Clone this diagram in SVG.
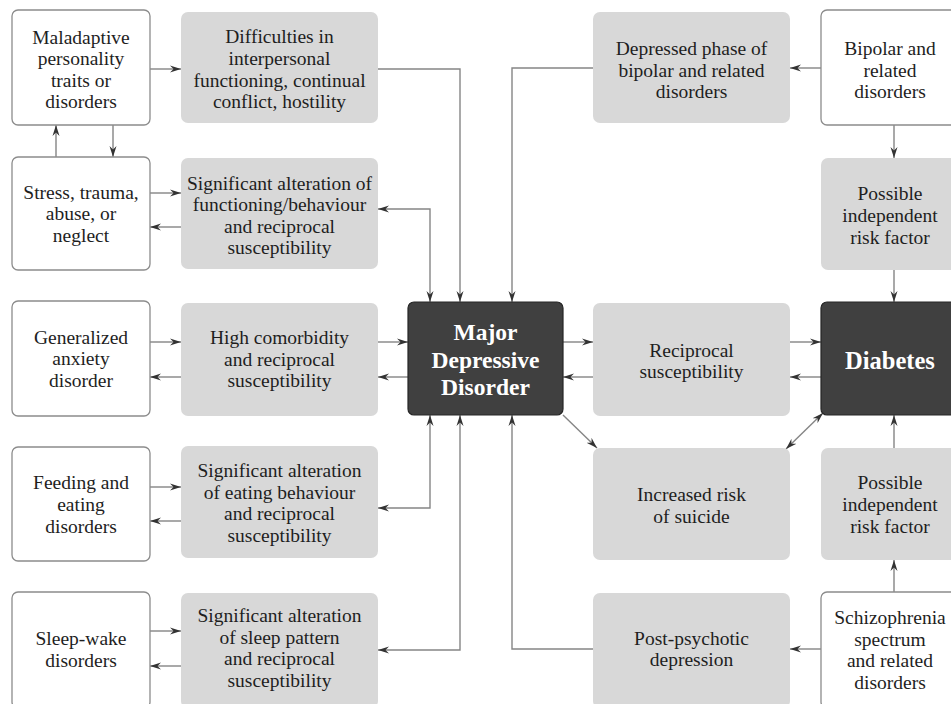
<svg xmlns="http://www.w3.org/2000/svg" width="951" height="704" viewBox="0 0 951 704">
<style>
.w{fill:#fff;stroke:#8c8c8c;stroke-width:1.3}
.g{fill:#d8d8d8;stroke:none}
.d{fill:#404040;stroke:#262626;stroke-width:1.2}
text{font-family:"Liberation Serif",serif;font-size:19.5px;fill:#1e1e1e;text-anchor:middle;dominant-baseline:central}
text.b{font-weight:bold;fill:#fff;font-size:23.5px}
.c path{fill:none;stroke:#858585;stroke-width:1.4}
</style>
<defs>
<marker id="a" viewBox="0 0 11 8" refX="11" refY="4" markerWidth="11" markerHeight="8" markerUnits="userSpaceOnUse" orient="auto-start-reverse">
<path d="M0,0.5 L11,4 L0,7.5 L3.5,4 z" fill="#333"/>
</marker>
</defs>
<rect width="951" height="704" fill="#fff"/>
<g class="c" id="connectors">
<path d="M150,69 H181" marker-end="url(#a)"/>
<path d="M378,69 H460 V302" marker-end="url(#a)"/>
<path d="M113,125 V157" marker-end="url(#a)"/>
<path d="M56,157 V125" marker-end="url(#a)"/>
<path d="M150,193 H181" marker-end="url(#a)"/>
<path d="M181,227 H150" marker-end="url(#a)"/>
<path d="M378,209 H430 V302" marker-start="url(#a)" marker-end="url(#a)"/>
<path d="M150,342 H181" marker-end="url(#a)"/>
<path d="M181,377 H150" marker-end="url(#a)"/>
<path d="M378,342 H408" marker-end="url(#a)"/>
<path d="M408,377 H378" marker-end="url(#a)"/>
<path d="M378,508 H430 V415" marker-start="url(#a)" marker-end="url(#a)"/>
<path d="M150,487 H181" marker-end="url(#a)"/>
<path d="M181,521 H150" marker-end="url(#a)"/>
<path d="M378,650 H460 V415" marker-start="url(#a)" marker-end="url(#a)"/>
<path d="M150,631 H181" marker-end="url(#a)"/>
<path d="M181,666 H150" marker-end="url(#a)"/>
<path d="M593,68 H512 V302" marker-end="url(#a)"/>
<path d="M821,68 H790" marker-end="url(#a)"/>
<path d="M894,125 V158" marker-end="url(#a)"/>
<path d="M894,270 V302" marker-end="url(#a)"/>
<path d="M563,342 H593" marker-end="url(#a)"/>
<path d="M593,377 H563" marker-end="url(#a)"/>
<path d="M790,342 H821" marker-end="url(#a)"/>
<path d="M821,377 H790" marker-end="url(#a)"/>
<path d="M563,415 L597,448" marker-end="url(#a)"/>
<path d="M823,413 L786,449" marker-start="url(#a)" marker-end="url(#a)"/>
<path d="M894,448 V415" marker-end="url(#a)"/>
<path d="M894,592 V560" marker-end="url(#a)"/>
<path d="M821,649 H790" marker-end="url(#a)"/>
<path d="M593,649 H512 V415" marker-end="url(#a)"/>
</g>
<g id="maladaptive"><rect class="w" x="12" y="10" width="138" height="115" rx="6"/>
<text><tspan x="81" y="37">Maladaptive</tspan><tspan x="81" y="58">personality</tspan><tspan x="81" y="80">traits or</tspan><tspan x="81" y="101">disorders</tspan></text></g>
<g id="stress"><rect class="w" x="12" y="157" width="138" height="113" rx="6"/>
<text><tspan x="81" y="192">Stress, trauma,</tspan><tspan x="81" y="213">abuse, or</tspan><tspan x="81" y="235">neglect</tspan></text></g>
<g id="gad"><rect class="w" x="12" y="301" width="138" height="115" rx="6"/>
<text><tspan x="81" y="337">Generalized</tspan><tspan x="81" y="358">anxiety</tspan><tspan x="81" y="380">disorder</tspan></text></g>
<g id="feeding"><rect class="w" x="12" y="447" width="138" height="114" rx="6"/>
<text><tspan x="81" y="482">Feeding and</tspan><tspan x="81" y="504">eating</tspan><tspan x="81" y="526">disorders</tspan></text></g>
<g id="sleep"><rect class="w" x="12" y="592" width="138" height="116" rx="6"/>
<text><tspan x="81" y="638">Sleep-wake</tspan><tspan x="81" y="660">disorders</tspan></text></g>
<g id="difficulties"><rect class="g" x="181" y="12" width="197" height="111" rx="7"/>
<text><tspan x="279.5" y="36">Difficulties in</tspan><tspan x="279.5" y="58">interpersonal</tspan><tspan x="279.5" y="80">functioning, continual</tspan><tspan x="279.5" y="101">conflict, hostility</tspan></text></g>
<g id="alteration-functioning"><rect class="g" x="181" y="158" width="197" height="111" rx="7"/>
<text><tspan x="279.5" y="183">Significant alteration of</tspan><tspan x="279.5" y="204">functioning/behaviour</tspan><tspan x="279.5" y="226">and reciprocal</tspan><tspan x="279.5" y="247">susceptibility</tspan></text></g>
<g id="high-comorbidity"><rect class="g" x="181" y="303" width="197" height="113" rx="7"/>
<text><tspan x="279.5" y="337">High comorbidity</tspan><tspan x="279.5" y="359">and reciprocal</tspan><tspan x="279.5" y="380">susceptibility</tspan></text></g>
<g id="alteration-eating"><rect class="g" x="181" y="446" width="197" height="112" rx="7"/>
<text><tspan x="279.5" y="470">Significant alteration</tspan><tspan x="279.5" y="492">of eating behaviour</tspan><tspan x="279.5" y="513">and reciprocal</tspan><tspan x="279.5" y="535">susceptibility</tspan></text></g>
<g id="alteration-sleep"><rect class="g" x="181" y="593" width="197" height="115" rx="7"/>
<text><tspan x="279.5" y="615">Significant alteration</tspan><tspan x="279.5" y="637">of sleep pattern</tspan><tspan x="279.5" y="658">and reciprocal</tspan><tspan x="279.5" y="680">susceptibility</tspan></text></g>
<g id="mdd"><rect class="d" x="408" y="302" width="155" height="113" rx="6"/>
<text class="b"><tspan x="485.5" y="332">Major</tspan><tspan x="485.5" y="360">Depressive</tspan><tspan x="485.5" y="387">Disorder</tspan></text></g>
<g id="depressed-phase"><rect class="g" x="593" y="12" width="197" height="111" rx="7"/>
<text><tspan x="691.5" y="48">Depressed phase of</tspan><tspan x="691.5" y="70">bipolar and related</tspan><tspan x="691.5" y="91">disorders</tspan></text></g>
<g id="reciprocal"><rect class="g" x="593" y="303" width="197" height="113" rx="7"/>
<text><tspan x="691.5" y="350">Reciprocal</tspan><tspan x="691.5" y="371">susceptibility</tspan></text></g>
<g id="suicide"><rect class="g" x="593" y="448" width="197" height="112" rx="7"/>
<text><tspan x="691.5" y="494">Increased risk</tspan><tspan x="691.5" y="516">of suicide</tspan></text></g>
<g id="post-psychotic"><rect class="g" x="593" y="593" width="197" height="115" rx="7"/>
<text><tspan x="691.5" y="638">Post-psychotic</tspan><tspan x="691.5" y="659">depression</tspan></text></g>
<g id="bipolar"><rect class="w" x="821" y="10" width="140" height="115" rx="6"/>
<text><tspan x="890" y="48">Bipolar and</tspan><tspan x="890" y="70">related</tspan><tspan x="890" y="91">disorders</tspan></text></g>
<g id="risk-factor-1"><rect class="g" x="821" y="158" width="140" height="112" rx="7"/>
<text><tspan x="890" y="193">Possible</tspan><tspan x="890" y="215">independent</tspan><tspan x="890" y="237">risk factor</tspan></text></g>
<g id="diabetes"><rect class="d" x="821" y="302" width="140" height="113" rx="6"/>
<text class="b" style="font-size:24.5px"><tspan x="890" y="360">Diabetes</tspan></text></g>
<g id="risk-factor-2"><rect class="g" x="821" y="448" width="140" height="112" rx="7"/>
<text><tspan x="890" y="482">Possible</tspan><tspan x="890" y="504">independent</tspan><tspan x="890" y="526">risk factor</tspan></text></g>
<g id="schizophrenia"><rect class="w" x="821" y="592" width="140" height="116" rx="6"/>
<text><tspan x="890" y="617">Schizophrenia</tspan><tspan x="890" y="639">spectrum</tspan><tspan x="890" y="660">and related</tspan><tspan x="890" y="682">disorders</tspan></text></g>
</svg>
